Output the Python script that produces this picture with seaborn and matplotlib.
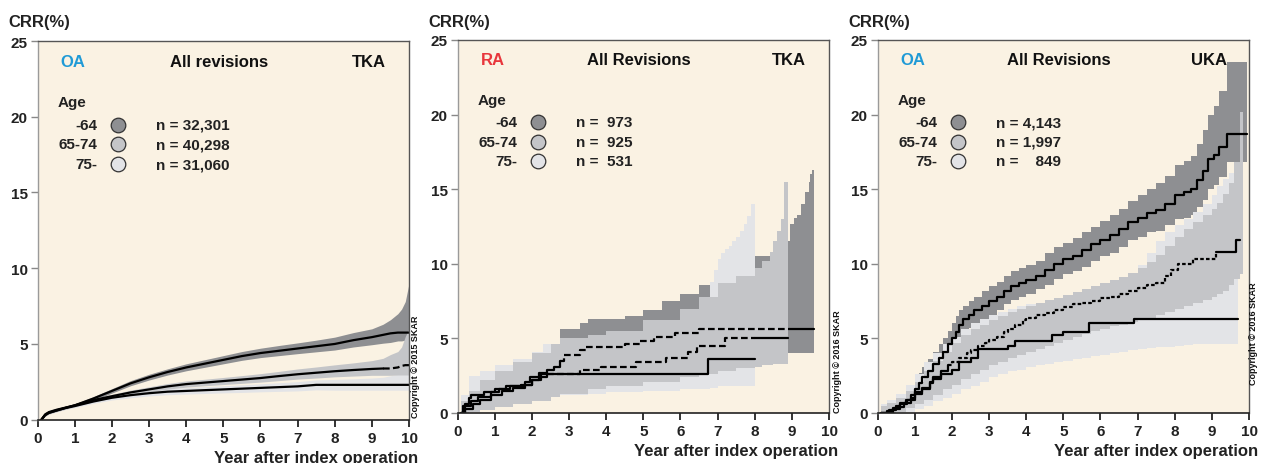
import numpy as np
import pandas as pd
import matplotlib
matplotlib.use("Agg")
import matplotlib.pyplot as plt
import seaborn as sns

sns.set_theme(style="ticks")
plt.rcParams['font.family'] = ['Liberation Sans', 'DejaVu Sans']
plt.rcParams['font.weight'] = 'bold'

# ---------------- Panel 1 : OA / TKA (smooth curves) ----------------
P1_X = [0.1, 0.2, 0.3, 0.5, 0.75, 1, 1.5, 2, 2.5, 3, 3.5, 4, 4.5, 5, 5.5, 6, 6.5, 7, 7.5, 8, 8.5, 9, 9.3, 9.5, 9.7, 9.8, 9.9, 10]
P1_64 = [0, 0.35, 0.5, 0.65, 0.8, 0.95, 1.4, 1.9, 2.4, 2.8, 3.15, 3.45, 3.7, 3.95, 4.2, 4.4, 4.55, 4.7, 4.85, 5.0, 5.25, 5.45, 5.6, 5.7, 5.75, 5.75, 5.75, 5.75]
P1_64_LO = [0, 0.25, 0.4, 0.55, 0.7, 0.85, 1.28, 1.76, 2.24, 2.62, 2.95, 3.23, 3.46, 3.69, 3.92, 4.1, 4.23, 4.36, 4.48, 4.6, 4.8, 4.95, 5.05, 5.1, 5.2, 5.2, 5.25, 5.3]
P1_64_HI = [0, 0.45, 0.6, 0.75, 0.9, 1.05, 1.52, 2.05, 2.58, 3.0, 3.36, 3.69, 3.96, 4.23, 4.5, 4.72, 4.9, 5.07, 5.25, 5.45, 5.75, 6.0, 6.3, 6.6, 7.0, 7.3, 7.8, 9.0]
P1_6574 = [0, 0.3, 0.45, 0.6, 0.78, 0.95, 1.3, 1.55, 1.8, 2.0, 2.2, 2.35, 2.45, 2.55, 2.65, 2.75, 2.88, 3.0, 3.1, 3.2, 3.28, 3.35, 3.38, 3.38, 3.45, 3.55, 3.6, 3.6]
P1_6574_LO = [0, 0.22, 0.37, 0.52, 0.7, 0.87, 1.2, 1.43, 1.66, 1.84, 2.02, 2.15, 2.24, 2.32, 2.4, 2.48, 2.58, 2.68, 2.75, 2.83, 2.88, 2.93, 2.93, 2.93, 2.95, 2.95, 2.95, 2.95]
P1_6574_HI = [0, 0.38, 0.53, 0.68, 0.86, 1.03, 1.4, 1.68, 1.95, 2.17, 2.39, 2.56, 2.67, 2.79, 2.91, 3.04, 3.19, 3.35, 3.48, 3.62, 3.75, 3.9, 4.05, 4.3, 4.5, 4.8, 5.5, 6.0]
P1_75 = [0, 0.3, 0.45, 0.6, 0.77, 0.9, 1.2, 1.45, 1.62, 1.75, 1.85, 1.9, 1.95, 2.0, 2.05, 2.1, 2.15, 2.2, 2.3, 2.3, 2.3, 2.3, 2.3, 2.3, 2.3, 2.3, 2.3, 2.3]
P1_75_LO = [0, 0.22, 0.37, 0.52, 0.68, 0.8, 1.08, 1.3, 1.45, 1.57, 1.65, 1.69, 1.73, 1.77, 1.8, 1.84, 1.87, 1.9, 1.97, 1.95, 1.95, 1.95, 1.95, 1.95, 1.95, 1.95, 1.95, 1.95]
P1_75_HI = [0, 0.38, 0.53, 0.68, 0.86, 1.0, 1.32, 1.6, 1.8, 1.94, 2.06, 2.12, 2.18, 2.24, 2.3, 2.37, 2.44, 2.51, 2.63, 2.66, 2.7, 2.75, 2.8, 2.9, 3.0, 3.1, 3.2, 3.3]

# ---------------- Panel 2 : RA / TKA (step curves) ----------------
P2_64_X = [0.1, 0.15, 0.35, 0.55, 0.9, 1.1, 1.4, 1.8, 1.95, 2.2, 2.4, 2.6, 2.75, 2.85, 3.3, 3.45, 4.5, 4.9, 5.3, 5.85, 6.5, 9.6]
P2_64_Y = [0, 0.5, 0.8, 1.1, 1.4, 1.6, 1.8, 2.1, 2.4, 2.7, 2.9, 3.1, 3.5, 3.9, 4.2, 4.4, 4.6, 4.8, 5.1, 5.35, 5.65, 5.65]
P2_64_BX = [0.1, 0.3, 0.6, 1, 1.5, 2, 2.5, 2.75, 3.3, 3.5, 4.5, 5, 5.5, 6, 6.5, 6.8, 7.5, 8, 8.5, 8.95, 9.05, 9.15, 9.25, 9.35, 9.45, 9.5, 9.55, 9.6]
P2_64_LO = [0, 0.1, 0.3, 0.6, 0.8, 1.1, 1.5, 1.9, 2.3, 2.5, 2.7, 2.9, 3.1, 3.3, 3.5, 3.6, 3.8, 3.9, 4.0, 4.0, 4.0, 4.0, 4.0, 4.0, 4.0, 4.0, 4.0, 4.0]
P2_64_HI = [0.5, 1.3, 2.0, 2.6, 3.1, 3.7, 4.3, 5.6, 6.0, 6.3, 6.5, 6.9, 7.5, 8.0, 8.6, 8.7, 9.5, 10.5, 11.5, 12.7, 13.1, 13.3, 14.0, 14.8, 15.5, 16.0, 16.3, 16.3]
P2_6574_X = [0.1, 0.2, 0.4, 0.6, 0.9, 1.2, 1.5, 1.8, 2.0, 2.2, 2.4, 3.3, 3.85, 4.8, 5.6, 6.2, 6.45, 7.2, 8.9]
P2_6574_Y = [0, 0.3, 0.6, 0.9, 1.2, 1.5, 1.7, 1.9, 2.2, 2.4, 2.6, 2.85, 3.1, 3.4, 3.7, 4.1, 4.5, 5.0, 5.0]
P2_6574_BX = [0.1, 0.3, 0.6, 1, 1.5, 2, 2.5, 2.75, 3.5, 4, 5, 6, 6.5, 7, 7.5, 8, 8.2, 8.4, 8.5, 8.6, 8.7, 8.8, 8.9]
P2_6574_LO = [0, 0.05, 0.2, 0.4, 0.6, 0.8, 1.1, 1.3, 1.6, 1.8, 2.1, 2.4, 2.6, 2.8, 3.0, 3.1, 3.2, 3.2, 3.3, 3.3, 3.3, 3.3, 3.3]
P2_6574_HI = [0.8, 1.5, 2.2, 2.8, 3.4, 4.0, 4.6, 5.0, 5.2, 5.5, 6.2, 7.0, 7.8, 8.7, 9.2, 9.7, 10.2, 10.8, 11.5, 12.2, 13.0, 15.5, 15.5]
P2_75_X = [0.1, 0.2, 0.3, 0.35, 0.7, 1.0, 1.3, 1.7, 2.0, 2.25, 6.75, 8.0]
P2_75_Y = [0, 0.6, 1.0, 1.2, 1.4, 1.6, 1.8, 1.9, 2.2, 2.6, 3.6, 3.6]
P2_75_BX = [0.1, 0.3, 0.6, 1, 1.5, 2, 2.3, 2.75, 3.5, 4, 5, 6, 6.5, 6.8, 6.9, 7.0, 7.1, 7.2, 7.3, 7.4, 7.5, 7.6, 7.7, 7.8, 7.9, 8.0]
P2_75_LO = [0, 0.05, 0.3, 0.5, 0.7, 0.9, 1.1, 1.2, 1.3, 1.4, 1.5, 1.6, 1.6, 1.7, 1.7, 1.8, 1.8, 1.8, 1.8, 1.8, 1.8, 1.8, 1.8, 1.8, 1.8, 1.8]
P2_75_HI = [1.2, 2.5, 2.8, 3.2, 3.6, 4.1, 4.6, 5.0, 5.0, 5.2, 5.7, 6.2, 6.7, 8.8, 9.6, 10.3, 10.7, 11.0, 11.2, 11.5, 11.8, 12.2, 12.7, 13.2, 14.0, 14.0]

# ---------------- Panel 3 : OA / UKA (step curves) ----------------
P3_64_X = [0.1, 0.25, 0.4, 0.5, 0.6, 0.75, 0.9, 1.0, 1.1, 1.2, 1.35, 1.5, 1.65, 1.75, 1.9, 2.0, 2.1, 2.2, 2.3, 2.45,
           2.6, 2.8, 3.0, 3.2, 3.4, 3.6, 3.8, 4.0, 4.25, 4.5, 4.75, 5.0, 5.25, 5.5, 5.75, 6.0, 6.25, 6.5, 6.75, 7.0,
           7.25, 7.5, 7.75, 8.0, 8.25, 8.45, 8.6, 8.75, 8.9, 9.05, 9.2, 9.4, 9.95]
P3_64_Y = [0, 0.15, 0.35, 0.5, 0.7, 0.9, 1.2, 1.6, 2.0, 2.4, 2.8, 3.3, 3.7, 4.1, 4.6, 5.0, 5.4, 5.9, 6.3, 6.6,
           6.9, 7.2, 7.5, 7.8, 8.2, 8.5, 8.7, 8.9, 9.2, 9.6, 10.0, 10.3, 10.5, 10.9, 11.3, 11.6, 11.9, 12.3, 12.8, 13.1,
           13.4, 13.6, 14.0, 14.6, 14.8, 15.0, 15.6, 16.2, 17.0, 17.3, 17.8, 18.7, 18.7]
P3_64_HI = [0.2, 0.4, 0.6, 0.8, 1.0, 1.3, 1.7, 2.2, 2.7, 3.1, 3.6, 4.1, 4.6, 5.0, 5.5, 6.0, 6.5, 6.9, 7.2, 7.5,
            7.8, 8.2, 8.5, 8.8, 9.2, 9.5, 9.7, 9.9, 10.2, 10.7, 11.1, 11.4, 11.7, 12.1, 12.5, 12.9, 13.3, 13.7, 14.2, 14.6,
            15.0, 15.4, 15.9, 16.6, 16.9, 17.2, 18.0, 19.0, 20.0, 20.6, 21.6, 23.5, 25.5]
P3_64_LO = [0, 0, 0.1, 0.2, 0.4, 0.6, 0.8, 1.1, 1.4, 1.8, 2.1, 2.6, 2.9, 3.3, 3.7, 4.1, 4.5, 5.0, 5.4, 5.7,
            6.0, 6.3, 6.6, 6.9, 7.3, 7.6, 7.8, 8.0, 8.3, 8.6, 9.0, 9.3, 9.5, 9.8, 10.2, 10.5, 10.7, 11.1, 11.6, 11.8,
            12.1, 12.2, 12.6, 13.0, 13.1, 13.3, 13.8, 14.3, 15.0, 15.3, 15.8, 16.8, 16.8]
P3_6574_X = [0.1, 0.3, 0.5, 0.7, 0.9, 1.0, 1.2, 1.4, 1.5, 1.7, 1.9, 2.0, 2.2, 2.4, 2.5, 2.7, 2.9, 3.0, 3.2, 3.4,
             3.5, 3.7, 3.9, 4.0, 4.25, 4.5, 4.75, 5.0, 5.25, 5.5, 5.75, 6.0, 6.25, 6.5, 6.75, 7.0, 7.25, 7.5, 7.75, 7.9,
             8.1, 8.5, 9.1, 9.65, 9.75]
P3_6574_Y = [0, 0.2, 0.4, 0.7, 1.0, 1.3, 1.6, 2.1, 2.4, 2.8, 3.2, 3.4, 3.7, 4.0, 4.2, 4.5, 4.7, 4.9, 5.1, 5.4,
             5.6, 5.9, 6.2, 6.4, 6.6, 6.7, 6.9, 7.1, 7.3, 7.4, 7.5, 7.7, 7.8, 8.0, 8.2, 8.4, 8.6, 8.7, 9.2, 9.6,
             10.0, 10.3, 10.8, 11.6, 11.6]
P3_6574_BX = [0.1, 0.25, 0.5, 0.75, 1.0, 1.25, 1.5, 1.75, 2.0, 2.25, 2.5, 2.75, 3.0, 3.25, 3.5, 3.75, 4.0, 4.25, 4.5, 4.75,
              5.0, 5.25, 5.5, 5.75, 6.0, 6.25, 6.5, 6.75, 7.0, 7.25, 7.5, 7.75, 8.0, 8.25, 8.5, 8.75, 9.0, 9.15, 9.3, 9.45,
              9.6, 9.75, 9.85]
P3_6574_HI = [0.5, 0.7, 1.0, 1.5, 2.1, 2.8, 3.5, 4.1, 4.7, 5.2, 5.6, 5.9, 6.2, 6.5, 6.8, 7.0, 7.2, 7.4, 7.6, 7.7,
              7.9, 8.1, 8.3, 8.5, 8.7, 8.9, 9.1, 9.4, 9.7, 10.1, 10.6, 11.2, 11.8, 12.3, 12.8, 13.3, 13.7, 14.1, 14.7, 15.4,
              16.8, 20.2, 20.2]
P3_6574_LO = [0, 0, 0.1, 0.35, 0.6, 0.9, 1.2, 1.6, 1.9, 2.3, 2.6, 2.9, 3.2, 3.4, 3.7, 3.9, 4.1, 4.3, 4.5, 4.7,
              4.9, 5.1, 5.3, 5.5, 5.6, 5.8, 5.9, 6.1, 6.3, 6.4, 6.6, 6.8, 7.0, 7.2, 7.4, 7.6, 7.8, 8.0, 8.2, 8.6,
              9.0, 9.3, 9.3]
P3_75_X = [0.1, 0.4, 0.6, 0.8, 1.0, 1.2, 1.4, 1.5, 1.7, 2.0, 2.2, 2.5, 2.7, 3.5, 3.7, 4.7, 5.0, 5.7, 6.9, 9.7]
P3_75_Y = [0, 0.3, 0.6, 0.9, 1.4, 1.7, 2.0, 2.3, 2.6, 2.9, 3.4, 3.7, 4.3, 4.5, 4.8, 5.2, 5.4, 6.0, 6.3, 6.3]
P3_75_BX = [0.1, 0.25, 0.5, 0.75, 1.0, 1.25, 1.5, 1.75, 2.0, 2.25, 2.5, 2.75, 3.0, 3.25, 3.5, 3.75, 4.0, 4.25, 4.5, 4.75,
            5.0, 5.25, 5.5, 5.75, 6.0, 6.25, 6.5, 6.75, 7.0, 7.25, 7.5, 7.75, 8.0, 8.25, 8.5, 8.75, 9.0, 9.15, 9.3, 9.45,
            9.6, 9.7]
P3_75_HI = [0.6, 0.9, 1.3, 1.9, 2.6, 3.4, 4.0, 4.6, 5.1, 5.6, 6.0, 6.3, 6.6, 6.8, 7.0, 7.2, 7.3, 7.4, 7.5, 7.6,
            7.7, 7.8, 8.0, 8.2, 8.4, 8.6, 8.9, 9.3, 9.9, 10.7, 11.5, 12.1, 12.6, 13.0, 13.5, 14.0, 14.6, 15.2, 15.7, 16.1,
            16.5, 16.5]
P3_75_LO = [0, 0, 0, 0.1, 0.3, 0.5, 0.8, 1.0, 1.3, 1.6, 1.8, 2.1, 2.4, 2.6, 2.8, 2.9, 3.1, 3.2, 3.3, 3.4,
            3.5, 3.6, 3.7, 3.8, 3.9, 4.0, 4.1, 4.2, 4.3, 4.35, 4.4, 4.45, 4.5, 4.55, 4.6, 4.6, 4.6, 4.6, 4.6, 4.6,
            4.6, 4.6]

# ---------------- Texts ----------------
AGE_GROUPS = ["-64", "65-74", "75-"]
N_TEXT = [["n = 32,301", "n = 40,298", "n = 31,060"],
          ["n =  973", "n =  925", "n =  531"],
          ["n = 4,143", "n = 1,997", "n =    849"]]
DIAG = ["OA", "RA", "OA"]
DIAG_COL = ["#1f9ad6", "#e8363c", "#1f9ad6"]
TITLES = ["All revisions", "All Revisions", "All Revisions"]
PROSTH = ["TKA", "TKA", "UKA"]
COPYR = ["Copyright \u00a9 2015 SKAR", "Copyright \u00a9 2016 SKAR", "Copyright \u00a9 2016 SKAR"]
X_TICKS = list(range(11))
Y_TICKS = [0, 5, 10, 15, 20, 25]

BG = "#FAF2E3"
BAND_COLS = {"-64": "#8E8F92", "65-74": "#C4C5C8", "75-": "#E3E4E7"}
MARK_COLS = ["#8E8F92", "#C4C5C8", "#E3E4E7"]

W, H = 1261, 464
fig = plt.figure(figsize=(W / 100, H / 100), dpi=100)
fig.patch.set_facecolor("white")

# axes placement (pixels): left, top, right, bottom
boxes = [(37.7, 42, 409, 420.7), (457.7, 41, 829, 414), (877.7, 41, 1249, 414)]
axes = []
for (l, t, r, b) in boxes:
    axes.append(fig.add_axes([l / W, (H - b) / H, (r - l) / W, (b - t) / H]))


def step_val(x, y, t):
    i = np.searchsorted(x, t, side="right") - 1
    i = max(0, min(i, len(y) - 1))
    return y[i]


def step_segment(x, y, a, b):
    x = np.asarray(x, float); y = np.asarray(y, float)
    m = (x > a) & (x < b)
    xs = np.concatenate([[a], x[m], [b]])
    ys = np.concatenate([[step_val(x, y, a)], y[m], [step_val(x, y, b)]])
    return xs, ys


def lin_segment(x, y, a, b):
    x = np.asarray(x, float); y = np.asarray(y, float)
    m = (x > a) & (x < b)
    xs = np.concatenate([[a], x[m], [b]])
    ys = np.interp(xs, x, y)
    return xs, ys


def draw_line(ax, x, y, dashed_range, step, dashes):
    x = np.asarray(x, float)
    seg = step_segment if step else lin_segment
    x0, x1 = x[0], x[-1]
    pieces = []
    if dashed_range is None:
        pieces.append((x0, x1, False))
    else:
        a, b = dashed_range
        pieces.append((x0, a, False))
        pieces.append((a, min(b, x1), True))
        if b < x1:
            pieces.append((b, x1, False))
    for (a, b, dash) in pieces:
        xs, ys = seg(x, y, a, b)
        df = pd.DataFrame({"x": xs, "y": ys})
        kw = dict(drawstyle="steps-post") if step else {}
        line = sns.lineplot(data=df, x="x", y="y", ax=ax, color="black", lw=1.6,
                            estimator=None, sort=False, legend=False, **kw)
        if dash:
            line.lines[-1].set_dashes(dashes)


panels = [
    dict(step=False, dashes=(3, 1.5),
         bands=[("-64", P1_X, P1_64_LO, P1_64_HI), ("75-", P1_X, P1_75_LO, P1_75_HI), ("65-74", P1_X, P1_6574_LO, P1_6574_HI)],
         lines=[(P1_X, P1_64, None), (P1_X, P1_6574, (9.3, 10.0)), (P1_X, P1_75, None)]),
    dict(step=True, dashes=(3, 1.5),
         bands=[("-64", P2_64_BX, P2_64_LO, P2_64_HI), ("75-", P2_75_BX, P2_75_LO, P2_75_HI), ("65-74", P2_6574_BX, P2_6574_LO, P2_6574_HI)],
         lines=[(P2_64_X, P2_64_Y, (2.75, 8.95)), (P2_6574_X, P2_6574_Y, (2.4, 8.0)), (P2_75_X, P2_75_Y, None)]),
    dict(step=True, dashes=(1.6, 1.0),
         bands=[("-64", P3_64_X, P3_64_LO, P3_64_HI), ("75-", P3_75_BX, P3_75_LO, P3_75_HI), ("65-74", P3_6574_BX, P3_6574_LO, P3_6574_HI)],
         lines=[(P3_64_X, P3_64_Y, None), (P3_6574_X, P3_6574_Y, (1.9, 9.1)), (P3_75_X, P3_75_Y, None)]),
]

copy_off = [(7, 3), (9, 1), (4, 29)]

for k, (ax, p) in enumerate(zip(axes, panels)):
    ax.set_facecolor(BG)
    for (grp, bx, lo, hi) in p["bands"]:
        ax.fill_between(bx, lo, hi, step="post" if p["step"] else None,
                        color=BAND_COLS[grp], lw=0, zorder=1)
    for (x, y, dr) in p["lines"]:
        draw_line(ax, x, y, dr, p["step"], p["dashes"])

    ax.set_xlim(0, 10)
    ax.set_ylim(0, 25)
    ax.set_xticks(X_TICKS)
    ax.set_yticks(Y_TICKS)
    ax.set_xticklabels([str(v) for v in X_TICKS], fontsize=11, fontweight="bold")
    ax.set_yticklabels([str(v) for v in Y_TICKS], fontsize=11, fontweight="bold")
    ax.set_xlabel(""); ax.set_ylabel("")
    ax.tick_params(axis="y", length=5, width=1, color="#888888", pad=2, labelcolor="#222222")
    ax.tick_params(axis="x", length=5, width=1.2, color="#111111", pad=3, labelcolor="#222222")
    for s in ["top", "right"]:
        ax.spines[s].set_visible(True)
        ax.spines[s].set_color("#555555")
        ax.spines[s].set_linewidth(1.0)
    ax.spines["left"].set_color("#9a9a9a")
    ax.spines["left"].set_linewidth(1.0)
    ax.spines["bottom"].set_color("#222222")
    ax.spines["bottom"].set_linewidth(1.2)

    tr = ax.transAxes
    ax.text(0.095, 0.947, DIAG[k], transform=tr, ha="center", va="center",
            fontsize=12, fontweight="bold", color=DIAG_COL[k])
    ax.text(0.488, 0.947, TITLES[k], transform=tr, ha="center", va="center",
            fontsize=12, fontweight="bold", color="#111111")
    ax.text(0.892, 0.947, PROSTH[k], transform=tr, ha="center", va="center",
            fontsize=12, fontweight="bold", color="#111111")
    ax.text(0.055, 0.839, "Age", transform=tr, ha="left", va="center",
            fontsize=11, fontweight="bold", color="#222222")
    for j, (g, ypos) in enumerate(zip(AGE_GROUPS, [0.779, 0.727, 0.675])):
        ax.text(0.160, ypos, g, transform=tr, ha="right", va="center",
                fontsize=11, fontweight="bold", color="#222222")
        ax.plot([0.217], [ypos], transform=tr, marker="o", ms=10.5,
                mfc=MARK_COLS[j], mec="#333333", mew=0.9, ls="none", clip_on=False)
        ax.text(0.319, ypos, N_TEXT[k][j], transform=tr, ha="left", va="center",
                fontsize=11, fontweight="bold", color="#222222")

    ax.annotate("CRR(%)", xy=(0, 1), xycoords="axes fraction", xytext=(-29, 19),
                textcoords="offset pixels", ha="left", va="center",
                fontsize=12, fontweight="bold", color="#222222", annotation_clip=False)
    ax.annotate("Year after index operation", xy=(1, 0), xycoords="axes fraction",
                xytext=(9, -38), textcoords="offset pixels", ha="right", va="center",
                fontsize=12, fontweight="bold", color="#222222", annotation_clip=False)
    ox, oy = copy_off[k]
    ax.annotate(COPYR[k], xy=(1, 0), xycoords="axes fraction", xytext=(ox, oy),
                textcoords="offset pixels", ha="center", va="bottom", rotation=90,
                fontsize=6.5, fontweight="bold", color="#111111", annotation_clip=False)

fig.savefig("out.png", dpi=100, facecolor="white")
